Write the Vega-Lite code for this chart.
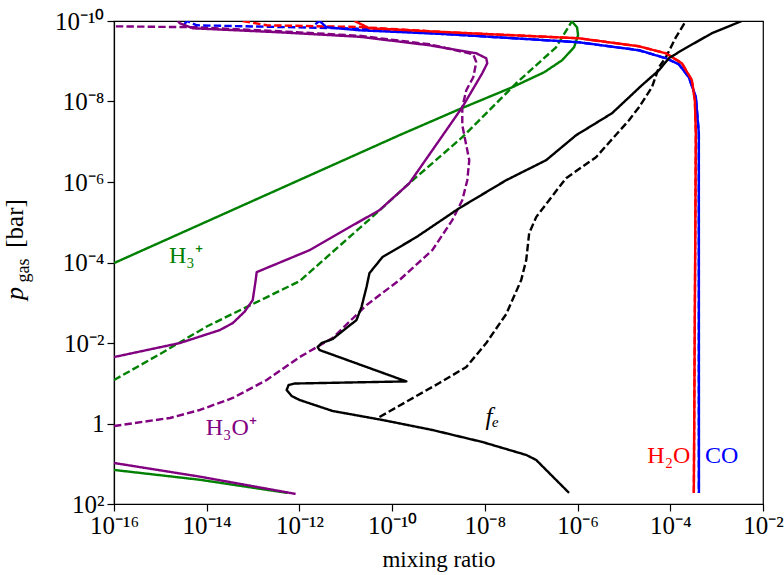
{
  "$schema": "https://vega.github.io/schema/vega-lite/v6.json",
  "width": 649,
  "height": 483,
  "autosize": "none",
  "padding": {"left": 114, "top": 21, "right": 21, "bottom": 71},
  "config": {
    "view": {"stroke": "black", "strokeWidth": 1.2},
    "font": "Liberation Serif",
    "axis": {"grid": false, "domainColor": "black", "tickColor": "black", "labelColor": "black", "titleColor": "black", "labelFont": "Liberation Serif", "titleFont": "Liberation Serif", "titleFontWeight": "normal"}
  },
  "datasets": {
    "curves": [
      {"id": "gD", "s": "H3+", "d": "dashed", "i": 1, "x": 1e-16, "y": 8.32e-2},
      {"id": "gD", "s": "H3+", "d": "dashed", "i": 2, "x": 9.77e-16, "y": 1.884e-2},
      {"id": "gD", "s": "H3+", "d": "dashed", "i": 3, "x": 1.0e-14, "y": 3.9e-3},
      {"id": "gD", "s": "H3+", "d": "dashed", "i": 4, "x": 1.009e-12, "y": 2.90e-4},
      {"id": "gD", "s": "H3+", "d": "dashed", "i": 5, "x": 4.52e-11, "y": 6.05e-6},
      {"id": "gD", "s": "H3+", "d": "dashed", "i": 6, "x": 2.355e-10, "y": 1.069e-6},
      {"id": "gD", "s": "H3+", "d": "dashed", "i": 7, "x": 3.26e-9, "y": 7.71e-8},
      {"id": "gD", "s": "H3+", "d": "dashed", "i": 8, "x": 4.74e-8, "y": 3.52e-9},
      {"id": "gD", "s": "H3+", "d": "dashed", "i": 9, "x": 3.44e-7, "y": 4.50e-10},
      {"id": "gD", "s": "H3+", "d": "dashed", "i": 10, "x": 7.62e-7, "y": 1.0e-10},

      {"id": "pD", "s": "H3O+", "d": "dashed", "i": 1, "x": 1e-16, "y": 1.153},
      {"id": "pD", "s": "H3O+", "d": "dashed", "i": 2, "x": 1.607e-15, "y": 0.7295},
      {"id": "pD", "s": "H3O+", "d": "dashed", "i": 3, "x": 7.11e-15, "y": 0.4613},
      {"id": "pD", "s": "H3O+", "d": "dashed", "i": 4, "x": 3.65e-14, "y": 0.2323},
      {"id": "pD", "s": "H3O+", "d": "dashed", "i": 5, "x": 1.968e-13, "y": 8.30e-2},
      {"id": "pD", "s": "H3O+", "d": "dashed", "i": 6, "x": 1.009e-12, "y": 2.234e-2},
      {"id": "pD", "s": "H3O+", "d": "dashed", "i": 7, "x": 5.19e-12, "y": 7.53e-3},
      {"id": "pD", "s": "H3O+", "d": "dashed", "i": 8, "x": 2.80e-11, "y": 1.143e-3},
      {"id": "pD", "s": "H3O+", "d": "dashed", "i": 9, "x": 1.435e-10, "y": 2.735e-4},
      {"id": "pD", "s": "H3O+", "d": "dashed", "i": 10, "x": 7.36e-10, "y": 4.93e-5},
      {"id": "pD", "s": "H3O+", "d": "dashed", "i": 11, "x": 1.986e-9, "y": 8.87e-6},
      {"id": "pD", "s": "H3O+", "d": "dashed", "i": 12, "x": 3.26e-9, "y": 2.83e-6},
      {"id": "pD", "s": "H3O+", "d": "dashed", "i": 13, "x": 4.18e-9, "y": 9.02e-7},
      {"id": "pD", "s": "H3O+", "d": "dashed", "i": 14, "x": 4.61e-9, "y": 2.88e-7},
      {"id": "pD", "s": "H3O+", "d": "dashed", "i": 15, "x": 3.78e-9, "y": 9.16e-8},
      {"id": "pD", "s": "H3O+", "d": "dashed", "i": 16, "x": 3.26e-9, "y": 3.88e-8},
      {"id": "pD", "s": "H3O+", "d": "dashed", "i": 17, "x": 3.26e-9, "y": 1.39e-8},
      {"id": "pD", "s": "H3O+", "d": "dashed", "i": 18, "x": 3.98e-9, "y": 5.25e-9},
      {"id": "pD", "s": "H3O+", "d": "dashed", "i": 19, "x": 5.62e-9, "y": 2.50e-9},
      {"id": "pD", "s": "H3O+", "d": "dashed", "i": 20, "x": 6.53e-9, "y": 1.052e-9},
      {"id": "pD", "s": "H3O+", "d": "dashed", "i": 21, "x": 5.62e-9, "y": 6.71e-10},
      {"id": "pD", "s": "H3O+", "d": "dashed", "i": 22, "x": 6.35e-10, "y": 3.79e-10},
      {"id": "pD", "s": "H3O+", "d": "dashed", "i": 23, "x": 1.977e-11, "y": 2.33e-10},
      {"id": "pD", "s": "H3O+", "d": "dashed", "i": 24, "x": 3.75e-13, "y": 1.80e-10},
      {"id": "pD", "s": "H3O+", "d": "dashed", "i": 25, "x": 6.12e-15, "y": 1.432e-10},
      {"id": "pD", "s": "H3O+", "d": "dashed", "i": 26, "x": 1e-16, "y": 1.355e-10},

      {"id": "bD", "s": "CO", "d": "dashed", "i": 1, "x": 3.3e-15, "y": 1.2e-10},
      {"id": "bD", "s": "CO", "d": "dashed", "i": 2, "x": 3.73e-15, "y": 1.0e-10},
      {"id": "bD", "s": "CO", "d": "dashed", "i": 3, "x": 6.12e-15, "y": 1.279e-10},
      {"id": "bD", "s": "CO", "d": "dashed", "i": 4, "x": 1.977e-11, "y": 1.545e-10},
      {"id": "bD", "s": "CO", "d": "dashed", "i": 5, "x": 1.714e-9, "y": 2.14e-10},
      {"id": "bD", "s": "CO", "d": "dashed", "i": 6, "x": 1.076e-6, "y": 3.38e-10},
      {"id": "bD", "s": "CO", "d": "dashed", "i": 7, "x": 2.11e-5, "y": 5.33e-10},
      {"id": "bD", "s": "CO", "d": "dashed", "i": 8, "x": 8.04e-5, "y": 8.43e-10},
      {"id": "bD", "s": "CO", "d": "dashed", "i": 9, "x": 1.531e-4, "y": 1.189e-9},
      {"id": "bD", "s": "CO", "d": "dashed", "i": 10, "x": 2.512e-4, "y": 2.50e-9},
      {"id": "bD", "s": "CO", "d": "dashed", "i": 11, "x": 3.56e-4, "y": 7.83e-9},
      {"id": "bD", "s": "CO", "d": "dashed", "i": 12, "x": 4.13e-4, "y": 6.14e-8},
      {"id": "bD", "s": "CO", "d": "dashed", "i": 13, "x": 4.13e-4, "y": 53.1},

      {"id": "rD", "s": "H2O", "d": "dashed", "i": 1, "x": 5.98e-14, "y": 1.0e-10},
      {"id": "rD", "s": "H2O", "d": "dashed", "i": 2, "x": 1.968e-13, "y": 1.279e-10},
      {"id": "rD", "s": "H2O", "d": "dashed", "i": 3, "x": 1.977e-11, "y": 1.409e-10},
      {"id": "rD", "s": "H2O", "d": "dashed", "i": 4, "x": 1.714e-9, "y": 1.91e-10},
      {"id": "rD", "s": "H2O", "d": "dashed", "i": 5, "x": 1.076e-6, "y": 2.69e-10},
      {"id": "rD", "s": "H2O", "d": "dashed", "i": 6, "x": 2.11e-5, "y": 4.25e-10},
      {"id": "rD", "s": "H2O", "d": "dashed", "i": 7, "x": 8.04e-5, "y": 6.34e-10},
      {"id": "rD", "s": "H2O", "d": "dashed", "i": 8, "x": 1.778e-4, "y": 1.122e-9},
      {"id": "rD", "s": "H2O", "d": "dashed", "i": 9, "x": 2.92e-4, "y": 2.96e-9},
      {"id": "rD", "s": "H2O", "d": "dashed", "i": 10, "x": 3.39e-4, "y": 9.31e-9},
      {"id": "rD", "s": "H2O", "d": "dashed", "i": 11, "x": 3.56e-4, "y": 6.14e-8},
      {"id": "rD", "s": "H2O", "d": "dashed", "i": 12, "x": 3.22e-4, "y": 53.1},

      {"id": "kD", "s": "fe", "d": "dashed", "i": 1, "x": 5.33e-11, "y": 0.689},
      {"id": "kD", "s": "fe", "d": "dashed", "i": 2, "x": 2.355e-10, "y": 0.2606},
      {"id": "kD", "s": "fe", "d": "dashed", "i": 3, "x": 1.042e-9, "y": 9.86e-2},
      {"id": "kD", "s": "fe", "d": "dashed", "i": 4, "x": 3.98e-9, "y": 3.95e-2},
      {"id": "kD", "s": "fe", "d": "dashed", "i": 5, "x": 1.072e-8, "y": 1.002e-2},
      {"id": "kD", "s": "fe", "d": "dashed", "i": 6, "x": 2.89e-8, "y": 1.910e-3},
      {"id": "kD", "s": "fe", "d": "dashed", "i": 7, "x": 6.08e-8, "y": 2.735e-4},
      {"id": "kD", "s": "fe", "d": "dashed", "i": 8, "x": 7.80e-8, "y": 8.73e-5},
      {"id": "kD", "s": "fe", "d": "dashed", "i": 9, "x": 9.04e-8, "y": 1.862e-5},
      {"id": "kD", "s": "fe", "d": "dashed", "i": 10, "x": 1.279e-7, "y": 7.46e-6},
      {"id": "kD", "s": "fe", "d": "dashed", "i": 11, "x": 2.432e-7, "y": 2.825e-6},
      {"id": "kD", "s": "fe", "d": "dashed", "i": 12, "x": 5.65e-7, "y": 8.04e-7},
      {"id": "kD", "s": "fe", "d": "dashed", "i": 13, "x": 2.50e-6, "y": 2.42e-7},
      {"id": "kD", "s": "fe", "d": "dashed", "i": 14, "x": 1.285e-5, "y": 2.92e-8},
      {"id": "kD", "s": "fe", "d": "dashed", "i": 15, "x": 2.11e-5, "y": 1.387e-8},
      {"id": "kD", "s": "fe", "d": "dashed", "i": 16, "x": 4.02e-5, "y": 4.43e-9},
      {"id": "kD", "s": "fe", "d": "dashed", "i": 17, "x": 5.69e-5, "y": 1.409e-9},
      {"id": "kD", "s": "fe", "d": "dashed", "i": 18, "x": 8.04e-5, "y": 7.96e-10},
      {"id": "kD", "s": "fe", "d": "dashed", "i": 19, "x": 1.318e-4, "y": 2.54e-10},
      {"id": "kD", "s": "fe", "d": "dashed", "i": 20, "x": 2.168e-4, "y": 1.0e-10},

      {"id": "g1", "s": "H3+", "d": "solid", "i": 1, "x": 1e-16, "y": 1.035e-4},
      {"id": "g1", "s": "H3+", "d": "solid", "i": 2, "x": 1.435e-10, "y": 6.87e-8},
      {"id": "g1", "s": "H3+", "d": "solid", "i": 3, "x": 2.81e-9, "y": 1.556e-8},
      {"id": "g1", "s": "H3+", "d": "solid", "i": 4, "x": 3.89e-8, "y": 4.43e-9},
      {"id": "g1", "s": "H3+", "d": "solid", "i": 5, "x": 1.90e-7, "y": 1.88e-9},
      {"id": "g1", "s": "H3+", "d": "solid", "i": 6, "x": 4.63e-7, "y": 9.46e-10},
      {"id": "g1", "s": "H3+", "d": "solid", "i": 7, "x": 8.41e-7, "y": 4.50e-10},
      {"id": "g1", "s": "H3+", "d": "solid", "i": 8, "x": 1.026e-6, "y": 2.26e-10},
      {"id": "g1", "s": "H3+", "d": "solid", "i": 9, "x": 9.75e-7, "y": 1.435e-10},
      {"id": "g1", "s": "H3+", "d": "solid", "i": 10, "x": 7.4e-7, "y": 1.0e-10},

      {"id": "g2", "s": "H3+", "d": "solid", "i": 1, "x": 1e-16, "y": 14.26},
      {"id": "g2", "s": "H3+", "d": "solid", "i": 2, "x": 7.11e-15, "y": 25.0},
      {"id": "g2", "s": "H3+", "d": "solid", "i": 3, "x": 5.57e-13, "y": 53.1},

      {"id": "p1", "s": "H3O+", "d": "solid", "i": 1, "x": 1e-16, "y": 2.234e-2},
      {"id": "p1", "s": "H3O+", "d": "solid", "i": 2, "x": 2.64e-15, "y": 1.002e-2},
      {"id": "p1", "s": "H3O+", "d": "solid", "i": 3, "x": 1.914e-14, "y": 4.78e-3},
      {"id": "p1", "s": "H3O+", "d": "solid", "i": 4, "x": 3.65e-14, "y": 3.20e-3},
      {"id": "p1", "s": "H3O+", "d": "solid", "i": 5, "x": 6.61e-14, "y": 1.652e-3},
      {"id": "p1", "s": "H3O+", "d": "solid", "i": 6, "x": 9.82e-14, "y": 8.59e-4},
      {"id": "p1", "s": "H3O+", "d": "solid", "i": 7, "x": 1.140e-13, "y": 2.735e-4},
      {"id": "p1", "s": "H3O+", "d": "solid", "i": 8, "x": 1.197e-13, "y": 1.734e-4},
      {"id": "p1", "s": "H3O+", "d": "solid", "i": 9, "x": 1.660e-12, "y": 4.93e-5},
      {"id": "p1", "s": "H3O+", "d": "solid", "i": 10, "x": 1.205e-11, "y": 1.324e-5},
      {"id": "p1", "s": "H3O+", "d": "solid", "i": 11, "x": 5.33e-11, "y": 5.01e-6},
      {"id": "p1", "s": "H3O+", "d": "solid", "i": 12, "x": 2.355e-10, "y": 1.069e-6},
      {"id": "p1", "s": "H3O+", "d": "solid", "i": 13, "x": 1.042e-9, "y": 9.16e-8},
      {"id": "p1", "s": "H3O+", "d": "solid", "i": 14, "x": 3.26e-9, "y": 1.387e-8},
      {"id": "p1", "s": "H3O+", "d": "solid", "i": 15, "x": 8.79e-9, "y": 1.986e-9},
      {"id": "p1", "s": "H3O+", "d": "solid", "i": 16, "x": 1.127e-8, "y": 1.122e-9},
      {"id": "p1", "s": "H3O+", "d": "solid", "i": 17, "x": 1.072e-8, "y": 8.43e-10},
      {"id": "p1", "s": "H3O+", "d": "solid", "i": 18, "x": 6.53e-9, "y": 6.34e-10},
      {"id": "p1", "s": "H3O+", "d": "solid", "i": 19, "x": 6.35e-10, "y": 4.01e-10},
      {"id": "p1", "s": "H3O+", "d": "solid", "i": 20, "x": 1.977e-11, "y": 2.466e-10},
      {"id": "p1", "s": "H3O+", "d": "solid", "i": 21, "x": 3.75e-13, "y": 1.910e-10},
      {"id": "p1", "s": "H3O+", "d": "solid", "i": 22, "x": 5.02e-15, "y": 1.517e-10},
      {"id": "p1", "s": "H3O+", "d": "solid", "i": 23, "x": 2.64e-15, "y": 1.140e-10},
      {"id": "p1", "s": "H3O+", "d": "solid", "i": 24, "x": 2.39e-15, "y": 1.0e-10},

      {"id": "p2", "s": "H3O+", "d": "solid", "i": 1, "x": 1e-16, "y": 9.57},
      {"id": "p2", "s": "H3O+", "d": "solid", "i": 2, "x": 7.11e-15, "y": 20.9},
      {"id": "p2", "s": "H3O+", "d": "solid", "i": 3, "x": 8.28e-13, "y": 56.2},

      {"id": "b", "s": "CO", "d": "solid", "i": 1, "x": 2.2e-12, "y": 1.2e-10},
      {"id": "b", "s": "CO", "d": "solid", "i": 2, "x": 2.72e-12, "y": 1.0e-10},
      {"id": "b", "s": "CO", "d": "solid", "i": 3, "x": 3.85e-12, "y": 1.432e-10},
      {"id": "b", "s": "CO", "d": "solid", "i": 4, "x": 1.977e-11, "y": 1.702e-10},
      {"id": "b", "s": "CO", "d": "solid", "i": 5, "x": 1.714e-9, "y": 2.14e-10},
      {"id": "b", "s": "CO", "d": "solid", "i": 6, "x": 1.076e-6, "y": 3.38e-10},
      {"id": "b", "s": "CO", "d": "solid", "i": 7, "x": 2.11e-5, "y": 5.33e-10},
      {"id": "b", "s": "CO", "d": "solid", "i": 8, "x": 8.04e-5, "y": 8.43e-10},
      {"id": "b", "s": "CO", "d": "solid", "i": 9, "x": 1.531e-4, "y": 1.189e-9},
      {"id": "b", "s": "CO", "d": "solid", "i": 10, "x": 2.512e-4, "y": 2.50e-9},
      {"id": "b", "s": "CO", "d": "solid", "i": 11, "x": 3.56e-4, "y": 7.83e-9},
      {"id": "b", "s": "CO", "d": "solid", "i": 12, "x": 4.13e-4, "y": 6.14e-8},
      {"id": "b", "s": "CO", "d": "solid", "i": 13, "x": 4.15e-4, "y": 53.1},

      {"id": "r", "s": "H2O", "d": "solid", "i": 1, "x": 1.542e-11, "y": 1.0e-10},
      {"id": "r", "s": "H2O", "d": "solid", "i": 2, "x": 3.24e-11, "y": 1.517e-10},
      {"id": "r", "s": "H2O", "d": "solid", "i": 3, "x": 1.714e-9, "y": 1.910e-10},
      {"id": "r", "s": "H2O", "d": "solid", "i": 4, "x": 1.076e-6, "y": 2.69e-10},
      {"id": "r", "s": "H2O", "d": "solid", "i": 5, "x": 2.11e-5, "y": 4.25e-10},
      {"id": "r", "s": "H2O", "d": "solid", "i": 6, "x": 8.04e-5, "y": 6.34e-10},
      {"id": "r", "s": "H2O", "d": "solid", "i": 7, "x": 1.778e-4, "y": 1.122e-9},
      {"id": "r", "s": "H2O", "d": "solid", "i": 8, "x": 2.92e-4, "y": 2.96e-9},
      {"id": "r", "s": "H2O", "d": "solid", "i": 9, "x": 3.39e-4, "y": 9.31e-9},
      {"id": "r", "s": "H2O", "d": "solid", "i": 10, "x": 3.56e-4, "y": 6.14e-8},
      {"id": "r", "s": "H2O", "d": "solid", "i": 11, "x": 3.22e-4, "y": 53.1},

      {"id": "k", "s": "fe", "d": "solid", "i": 1, "x": 6.56e-7, "y": 53.1},
      {"id": "k", "s": "fe", "d": "solid", "i": 2, "x": 1.279e-7, "y": 8.05},
      {"id": "k", "s": "fe", "d": "solid", "i": 3, "x": 7.80e-8, "y": 6.05},
      {"id": "k", "s": "fe", "d": "solid", "i": 4, "x": 8.79e-9, "y": 2.877},
      {"id": "k", "s": "fe", "d": "solid", "i": 5, "x": 7.38e-10, "y": 1.449},
      {"id": "k", "s": "fe", "d": "solid", "i": 6, "x": 6.18e-11, "y": 0.818},
      {"id": "k", "s": "fe", "d": "solid", "i": 7, "x": 5.19e-12, "y": 0.4887},
      {"id": "k", "s": "fe", "d": "solid", "i": 8, "x": 1.009e-12, "y": 0.2606},
      {"id": "k", "s": "fe", "d": "solid", "i": 9, "x": 6.79e-13, "y": 0.2075},
      {"id": "k", "s": "fe", "d": "solid", "i": 10, "x": 5.30e-13, "y": 0.147},
      {"id": "k", "s": "fe", "d": "solid", "i": 11, "x": 5.85e-13, "y": 0.1107},
      {"id": "k", "s": "fe", "d": "solid", "i": 12, "x": 7.89e-13, "y": 0.1016},
      {"id": "k", "s": "fe", "d": "solid", "i": 13, "x": 2.03e-10, "y": 9.0e-2},
      {"id": "k", "s": "fe", "d": "solid", "i": 14, "x": 2.72e-12, "y": 1.496e-2},
      {"id": "k", "s": "fe", "d": "solid", "i": 15, "x": 2.466e-12, "y": 1.259e-2},
      {"id": "k", "s": "fe", "d": "solid", "i": 16, "x": 3.01e-12, "y": 1.002e-2},
      {"id": "k", "s": "fe", "d": "solid", "i": 17, "x": 5.19e-12, "y": 7.98e-3},
      {"id": "k", "s": "fe", "d": "solid", "i": 18, "x": 1.702e-11, "y": 2.69e-3},
      {"id": "k", "s": "fe", "d": "solid", "i": 19, "x": 2.18e-11, "y": 1.282e-3},
      {"id": "k", "s": "fe", "d": "solid", "i": 20, "x": 2.80e-11, "y": 4.08e-4},
      {"id": "k", "s": "fe", "d": "solid", "i": 21, "x": 3.24e-11, "y": 1.837e-4},
      {"id": "k", "s": "fe", "d": "solid", "i": 22, "x": 6.18e-11, "y": 7.35e-5},
      {"id": "k", "s": "fe", "d": "solid", "i": 23, "x": 3.33e-10, "y": 2.344e-5},
      {"id": "k", "s": "fe", "d": "solid", "i": 24, "x": 2.81e-9, "y": 4.47e-6},
      {"id": "k", "s": "fe", "d": "solid", "i": 25, "x": 2.89e-8, "y": 9.02e-7},
      {"id": "k", "s": "fe", "d": "solid", "i": 26, "x": 2.10e-7, "y": 2.87e-7},
      {"id": "k", "s": "fe", "d": "solid", "i": 27, "x": 9.29e-7, "y": 6.89e-8},
      {"id": "k", "s": "fe", "d": "solid", "i": 28, "x": 5.53e-6, "y": 1.959e-8},
      {"id": "k", "s": "fe", "d": "solid", "i": 29, "x": 2.443e-5, "y": 3.94e-9},
      {"id": "k", "s": "fe", "d": "solid", "i": 30, "x": 5.68e-5, "y": 1.675e-9},
      {"id": "k", "s": "fe", "d": "solid", "i": 31, "x": 9.33e-5, "y": 8.43e-10},
      {"id": "k", "s": "fe", "d": "solid", "i": 32, "x": 1.778e-4, "y": 5.33e-10},
      {"id": "k", "s": "fe", "d": "solid", "i": 33, "x": 7.87e-4, "y": 2.018e-10},
      {"id": "k", "s": "fe", "d": "solid", "i": 34, "x": 3.48e-3, "y": 1.0e-10}
    ],
    "labels": [
      {"s": "H3+", "t": "H₃⁺", "x": 3.55e-15, "y": 6.95e-5},
      {"s": "H3O+", "t": "H₃O⁺", "x": 3.39e-14, "y": 1.294},
      {"s": "H2O", "t": "H₂O", "x": 9.3e-5, "y": 6.41},
      {"s": "CO", "t": "CO", "x": 1.29e-3, "y": 6.41}
    ],
    "italic": [
      {"s": "fe", "t": "fₑ", "x": 1.442e-8, "y": 0.690}
    ]
  },
  "encoding": {
    "x": {
      "field": "x", "type": "quantitative",
      "scale": {"type": "log", "domain": [1e-16, 1e-2]},
      "axis": {
        "values": [1e-16, 1e-14, 1e-12, 1e-10, 1e-8, 1e-6, 1e-4, 1e-2],
        "labelExpr": "datum.value < 1e-15 ? '10⁻¹⁶' : datum.value < 1e-13 ? '10⁻¹⁴' : datum.value < 1e-11 ? '10⁻¹²' : datum.value < 1e-9 ? '10⁻¹⁰' : datum.value < 1e-7 ? '10⁻⁸' : datum.value < 1e-5 ? '10⁻⁶' : datum.value < 1e-3 ? '10⁻⁴' : '10⁻²'",
        "labelFontSize": 25, "labelBaseline": "alphabetic", "labelPadding": 22, "labelFlush": false, "labelOverlap": false,
        "tickSize": 7, "tickWidth": 1.2, "domainWidth": 1.2,
        "title": "mixing ratio", "titleFontSize": 23, "titleBaseline": "alphabetic", "titleY": 62
      }
    },
    "color": {
      "field": "s", "type": "nominal", "legend": null,
      "scale": {"domain": ["H3+", "H3O+", "H2O", "CO", "fe"], "range": ["#008000", "#800080", "#ff0000", "#0000ff", "#000000"]}
    }
  },
  "layer": [
    {
      "data": {"name": "curves"},
      "mark": {"type": "line", "clip": true, "strokeWidth": 2.4, "strokeJoin": "round"},
      "encoding": {
        "y": {
          "field": "y", "type": "quantitative",
          "scale": {"type": "log", "domain": [1e-10, 100], "reverse": true},
          "axis": {
            "orient": "left",
            "values": [1e-10, 1e-8, 1e-6, 1e-4, 1e-2, 1, 100],
            "labelExpr": "datum.value < 1e-9 ? '10⁻¹⁰' : datum.value < 1e-7 ? '10⁻⁸' : datum.value < 1e-5 ? '10⁻⁶' : datum.value < 1e-3 ? '10⁻⁴' : datum.value < 0.1 ? '10⁻²' : datum.value < 10 ? '1' : '10²'",
            "labelFontSize": 25, "labelPadding": 3, "labelFlush": false, "labelOverlap": false,
            "tickSize": 7, "tickWidth": 1.2, "domainWidth": 1.2,
            "title": "p", "titleFontSize": 26, "titleFontStyle": "italic", "titleAngle": 270,
            "titleAlign": "center", "titleBaseline": "alphabetic", "titleX": -92, "titleY": 272
          }
        },
        "detail": {"field": "id", "type": "nominal"},
        "order": {"field": "i", "type": "quantitative"},
        "strokeDash": {
          "field": "d", "type": "nominal", "legend": null,
          "scale": {"domain": ["solid", "dashed"], "range": [[1, 0], [7.4, 3.2]]}
        }
      }
    },
    {
      "data": {"name": "labels"},
      "mark": {"type": "text", "fontSize": 24, "font": "Liberation Serif", "baseline": "middle", "align": "center"},
      "encoding": {
        "y": {
          "field": "y", "type": "quantitative",
          "scale": {"type": "log", "domain": [1e-10, 100], "reverse": true},
          "axis": {
            "orient": "left", "labels": false, "ticks": false, "domain": false,
            "title": "gas", "titleFontSize": 18, "titleAngle": 270,
            "titleAlign": "center", "titleBaseline": "alphabetic", "titleX": -86, "titleY": 249
          }
        },
        "text": {"field": "t"}
      }
    },
    {
      "data": {"name": "italic"},
      "mark": {"type": "text", "fontSize": 25, "font": "Liberation Serif", "fontStyle": "italic", "baseline": "middle", "align": "center"},
      "encoding": {
        "y": {
          "field": "y", "type": "quantitative",
          "scale": {"type": "log", "domain": [1e-10, 100], "reverse": true},
          "axis": {
            "orient": "left", "labels": false, "ticks": false, "domain": false,
            "title": "[bar]", "titleFontSize": 25, "titleAngle": 270,
            "titleAlign": "center", "titleBaseline": "alphabetic", "titleX": -92, "titleY": 202
          }
        },
        "text": {"field": "t"}
      }
    }
  ],
  "resolve": {"axis": {"y": "independent"}}
}
